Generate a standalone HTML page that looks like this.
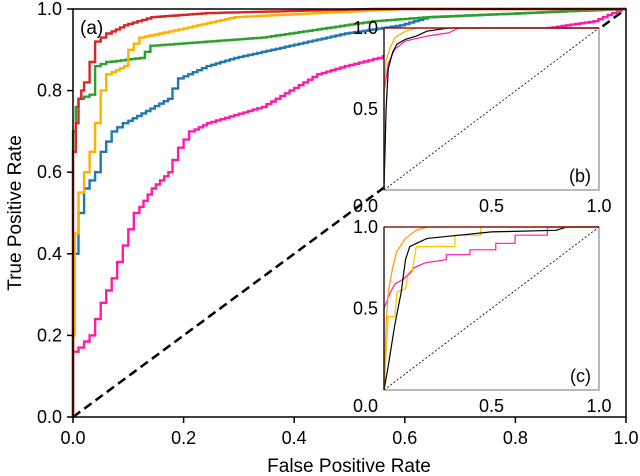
<!DOCTYPE html>
<html><head><meta charset="utf-8"><style>
body{margin:0;background:#fff}
svg{display:block;font-family:"Liberation Sans",sans-serif}
</style></head><body>
<svg id="chart" width="640" height="476"></svg>
<script>
const mainRed=[[0,0],[0,0.5],[0.005,0.65],[0.01,0.72],[0.015,0.78],[0.02,0.8],[0.03,0.82],[0.04,0.87],[0.05,0.92],[0.07,0.94],[0.1,0.96],[0.15,0.98],[0.25,0.99],[0.55,1.0],[1,1]];
const mainOrange=[[0,0],[0.003,0.2],[0.01,0.45],[0.02,0.55],[0.03,0.6],[0.04,0.65],[0.05,0.72],[0.06,0.8],[0.07,0.84],[0.1,0.86],[0.11,0.9],[0.13,0.93],[0.2,0.95],[0.3,0.98],[0.45,0.99],[0.6,1.0],[1,1]];
const mainGreen=[[0,0],[0,0.6],[0.005,0.7],[0.01,0.76],[0.02,0.78],[0.04,0.79],[0.05,0.86],[0.07,0.87],[0.13,0.88],[0.15,0.91],[0.25,0.92],[0.35,0.93],[0.45,0.95],[0.55,0.97],[0.65,0.98],[1,1]];
const mainBlue=[[0,0],[0.01,0.4],[0.02,0.5],[0.03,0.56],[0.05,0.6],[0.06,0.65],[0.08,0.7],[0.1,0.72],[0.14,0.75],[0.18,0.78],[0.2,0.83],[0.25,0.86],[0.3,0.88],[0.4,0.91],[0.5,0.94],[0.6,0.96],[0.65,0.98],[1,1]];
const mainPink=[[0,0],[0,0.15],[0.02,0.17],[0.04,0.2],[0.06,0.28],[0.08,0.34],[0.1,0.42],[0.12,0.5],[0.15,0.56],[0.18,0.6],[0.2,0.66],[0.22,0.7],[0.25,0.72],[0.3,0.74],[0.35,0.76],[0.4,0.8],[0.45,0.84],[0.5,0.86],[0.56,0.88],[0.6,0.9],[0.7,0.92],[0.8,0.94],[0.95,0.97],[1,1]];
const bBlack=[[0,0],[0.01,0.5],[0.02,0.75],[0.04,0.85],[0.06,0.9],[0.1,0.93],[0.15,0.95],[0.2,0.98],[0.3,1],[1,1]];
const bOrange=[[0,0],[0,0.6],[0.01,0.8],[0.03,0.88],[0.05,0.94],[0.1,0.98],[0.15,1],[1,1]];
const bPink=[[0,0],[0,0.6],[0.02,0.78],[0.05,0.87],[0.1,0.92],[0.2,0.95],[0.3,0.97],[0.35,1],[1,1]];
const cOrange=[[0,0],[0.01,0.4],[0.02,0.6],[0.04,0.75],[0.06,0.85],[0.1,0.93],[0.15,0.98],[0.2,1],[1,1]];
const cBlack=[[0,0],[0.02,0.15],[0.05,0.4],[0.08,0.6],[0.1,0.8],[0.12,0.88],[0.2,0.93],[0.35,0.95],[0.5,0.97],[0.8,0.98],[0.85,1],[1,1]];
const cYellow=[[0,0],[0.02,0.45],[0.05,0.45],[0.06,0.6],[0.1,0.62],[0.11,0.7],[0.13,0.72],[0.15,0.88],[0.33,0.88],[0.33,0.95],[0.45,0.95],[0.45,1],[1,1]];
const cPink=[[0,0],[0,0.5],[0.03,0.6],[0.05,0.65],[0.09,0.68],[0.12,0.72],[0.14,0.75],[0.19,0.78],[0.29,0.8],[0.29,0.83],[0.4,0.83],[0.4,0.86],[0.52,0.86],[0.52,0.9],[0.61,0.9],[0.61,0.95],[0.76,0.95],[0.76,1],[1,1]];
const tickLabels=["0.0","0.2","0.4","0.6","0.8","1.0"];
const insetTicks=["0.0","0.5","1.0"];

const NS="http://www.w3.org/2000/svg";
const svg=document.getElementById('chart');
function mk(t,a,p){const e=document.createElementNS(NS,t);for(const k in a)e.setAttribute(k,a[k]);(p||svg).appendChild(e);return e;}
function axes(x0,x1,y0,y1){return {x:v=>x0+v*(x1-x0),y:v=>y0-v*(y0-y1)};}
function line(ax,data,color,w,name,step){
  const pts=[];
  data.forEach((d,i)=>{
    if(step&&i>0){
      const pr=data[i-1];
      const n=Math.max(1,Math.round((d[0]-pr[0])*120));
      for(let k=1;k<=n;k++){
        const xa=pr[0]+(d[0]-pr[0])*(k-1)/n, xb=pr[0]+(d[0]-pr[0])*k/n, yb=pr[1]+(d[1]-pr[1])*k/n;
        pts.push([xa,yb]);pts.push([xb,yb]);
      }
    } else pts.push(d);
  });
  const p=mk('polyline',{points:pts.map(d=>ax.x(d[0]).toFixed(1)+','+ax.y(d[1]).toFixed(1)).join(' '),fill:'none',stroke:color,'stroke-width':w,'stroke-linejoin':'miter'});
  
  
}
const M=axes(73,626,417,9);
const diag=mk('line',{x1:M.x(0),y1:M.y(0),x2:M.x(1),y2:M.y(1),stroke:'#000','stroke-width':2.5,'stroke-dasharray':'9,5'});


line(M,mainPink,'#ff1aaa',2.4,'pink-roc',true);
line(M,mainBlue,'#1f77b4',2.4,'blue-roc',true);
line(M,mainGreen,'#2ca02c',2.4,'green-roc',true);
line(M,mainOrange,'#ffb000',2.4,'orange-roc',true);
line(M,mainRed,'#d62728',2.4,'red-roc',true);
mk('rect',{x:73,y:9,width:553,height:408,fill:'none',stroke:'#000','stroke-width':1.5});
tickLabels.forEach((t,i)=>{const v=i/5;
  mk('line',{x1:M.x(v),y1:417,x2:M.x(v),y2:423,stroke:'#000','stroke-width':1.5});
  mk('line',{x1:67,y1:M.y(v),x2:73,y2:M.y(v),stroke:'#000','stroke-width':1.5});
  const tx=mk('text',{x:M.x(v),y:444,'text-anchor':'middle','font-size':18});tx.textContent=t;
  
  const ty=mk('text',{x:62,y:M.y(v)+6,'text-anchor':'end','font-size':18});ty.textContent=t;
  
});
const xt=mk('text',{x:349,y:472,'text-anchor':'middle','font-size':19});xt.textContent='False Positive Rate';

const yt=mk('text',{x:0,y:0,'text-anchor':'middle','font-size':19,transform:'translate(21,213) rotate(-90)'});yt.textContent='True Positive Rate';

const la=mk('text',{x:80,y:34,'font-size':19});la.textContent='(a)';


function inset(y0,y1,series,label,name){
  mk('rect',{x:384,y:y1,width:215,height:y0-y1,fill:'#fff',stroke:'none'});
  const A=axes(384,599,y0,y1);
  const d=mk('line',{x1:A.x(0),y1:A.y(0),x2:A.x(1),y2:A.y(1),stroke:'#000','stroke-width':0.8,'stroke-dasharray':'2,2'});
  
  series.forEach(s=>line(A,s[0],s[1],1.2,name+'-'+s[2],false));
  mk('rect',{x:384,y:y1,width:215,height:y0-y1,fill:'none',stroke:'#888','stroke-width':1.2});
  mk('line',{x1:384,y1:y1,x2:384,y2:y0,stroke:'#000','stroke-width':1.2});
  mk('line',{x1:384,y1:y1,x2:599,y2:y1,stroke:'#8b0000','stroke-width':1.2});
  insetTicks.forEach((t,i)=>{const v=i/2;
    const a=mk('text',{x:i==0?378:A.x(v),y:y0+22,'text-anchor':i==0?'end':'middle','font-size':18});a.textContent=t;
    
    if(i>0){const b=mk('text',{x:378,y:A.y(v)+6,'text-anchor':'end','font-size':18});b.textContent=t;
    }
  });
  const l=mk('text',{x:591,y:y0-8,'text-anchor':'end','font-size':18});l.textContent=label;
  
}
inset(190,28,[[bPink,'#ff1aaa','pink'],[bBlack,'#000','black'],[bOrange,'#ffa500','orange']],'(b)','inset-b');
inset(390,227,[[cPink,'#ff1aaa','pink'],[cYellow,'#ffc000','yellow'],[cBlack,'#000','black'],[cOrange,'#ff9900','orange']],'(c)','inset-c');
</script>
</body></html>
